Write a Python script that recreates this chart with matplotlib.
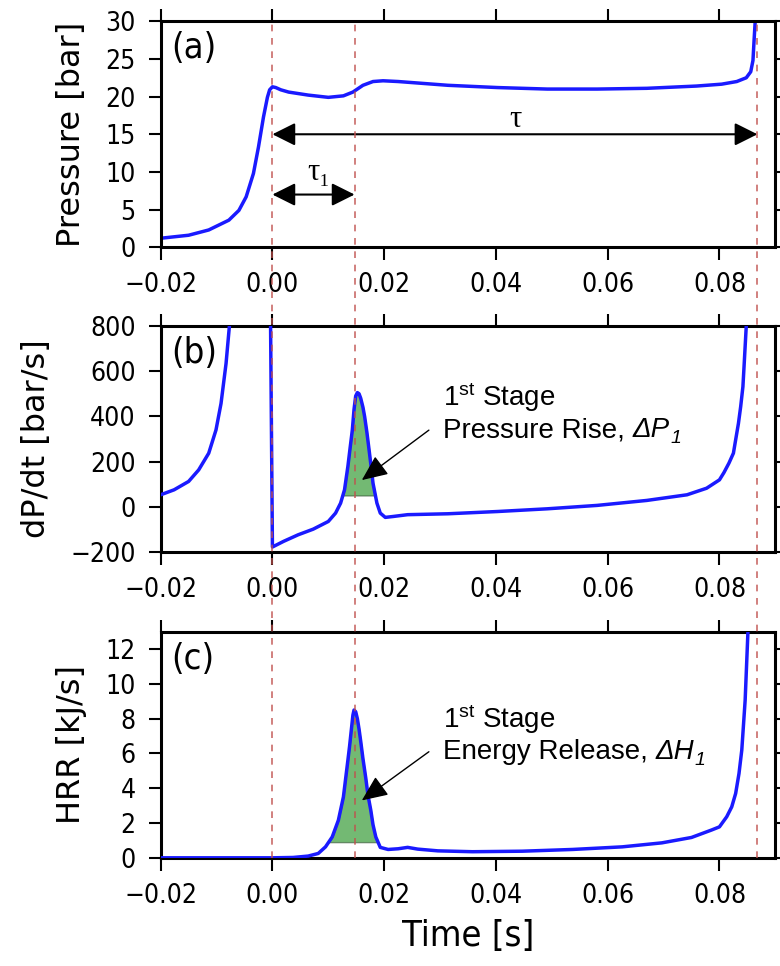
import numpy as np
import matplotlib.pyplot as plt
from matplotlib.lines import Line2D
from matplotlib.ticker import FuncFormatter
from matplotlib.transforms import blended_transform_factory

plt.rcParams['font.family'] = 'DejaVu Sans'
plt.rcParams['font.stretch'] = 'condensed'
plt.rcParams['mathtext.fontset'] = 'custom'
plt.rcParams['mathtext.rm'] = 'Liberation Sans'
plt.rcParams['mathtext.it'] = 'Liberation Sans:italic'

# (a) pressure trace
time_p = [-0.02, -0.015, -0.0114, -0.0078, -0.006, -0.0047, -0.0034, -0.0025, -0.0016,
          -0.0009, -0.0005, 0.0, 0.0006, 0.0015, 0.0029, 0.0064, 0.01, 0.0127, 0.0144,
          0.0162, 0.018, 0.0198, 0.0225, 0.0314, 0.0403, 0.0492, 0.0581, 0.067, 0.0759,
          0.0804, 0.0831, 0.0848, 0.0856, 0.086, 0.0862, 0.0864, 0.0866]
pres = [1.2, 1.6, 2.3, 3.6, 4.9, 6.7, 9.8, 13.3, 17.3,
        19.9, 20.9, 21.3, 21.2, 20.9, 20.6, 20.2, 19.9, 20.1, 20.6,
        21.5, 22.0, 22.1, 22.0, 21.5, 21.2, 21.0, 21.0, 21.1, 21.4,
        21.65, 22.0, 22.5, 23.3, 24.8, 27.5, 30.0, 40.0]

# (b) dP/dt
time_d = [-0.02, -0.0176, -0.015, -0.0132, -0.0114, -0.0101, -0.0092, -0.0083, -0.0077,
          -0.0072, -0.0004, 0.0, 0.002, 0.0046, 0.0073, 0.01, 0.0113, 0.0122, 0.0129,
          0.0135, 0.0139, 0.0143, 0.0146, 0.0149, 0.0152, 0.0155, 0.0158, 0.0162, 0.0165,
          0.0169, 0.0173, 0.0177, 0.018, 0.0187, 0.0193, 0.0202, 0.0216, 0.0242, 0.0314,
          0.0403, 0.0492, 0.0581, 0.067, 0.0742, 0.0777, 0.08, 0.0808, 0.0817, 0.0825,
          0.0829, 0.0834, 0.0838, 0.0842, 0.0844, 0.0848, 0.0852]
dpdt = [53, 75, 112, 163, 237, 340, 457, 634, 800,
        1000, 1000, -178, -153, -124, -99, -65, -28, 16, 75,
        178, 260, 340, 430, 490, 505, 500, 480, 440, 399,
        330, 251, 170, 104, 16, -28, -47, -43, -35, -31,
        -21, -9, 6, 28, 53, 82, 119, 151, 193, 237,
        296, 369, 443, 531, 619, 800, 1000]

# (c) heat release rate
time_h = [-0.02, 0.0, 0.0037, 0.0064, 0.0082, 0.0095, 0.0107, 0.0118, 0.0127, 0.0135,
          0.0138, 0.0142, 0.0144, 0.0146, 0.0149, 0.0152, 0.0155, 0.0158, 0.0162, 0.0167,
          0.0171, 0.0176, 0.018, 0.0185, 0.0193, 0.0207, 0.0225, 0.0242, 0.026, 0.0296,
          0.0358, 0.0447, 0.0537, 0.0626, 0.0697, 0.075, 0.0786, 0.08, 0.0813, 0.0822,
          0.0829, 0.0835, 0.084, 0.0846, 0.0851, 0.0855]
hrr = [0.0, 0.0, 0.02, 0.1, 0.25, 0.63, 1.2, 2.16, 3.5, 5.6,
       6.4, 7.6, 8.2, 8.5, 8.4, 8.0, 7.4, 6.7, 5.7, 4.6,
       3.6, 2.74, 1.9, 1.2, 0.6, 0.48, 0.52, 0.6, 0.5, 0.4,
       0.35, 0.38, 0.48, 0.63, 0.86, 1.17, 1.6, 1.78, 2.36, 2.93,
       3.7, 4.85, 6.2, 9.06, 13.0, 20.0]

t_start = 0.0
t_first = 0.0147
t_ign = 0.0868

time_p, pres = np.array(time_p), np.array(pres)
time_d, dpdt = np.array(time_d), np.array(dpdt)
time_h, hrr = np.array(time_h), np.array(hrr)

fig = plt.figure(figsize=(7.8, 9.66), dpi=100)
left, width, height = 0.206, 0.788, 0.234
ax1 = fig.add_axes([left, 0.744, width, height])
ax2 = fig.add_axes([left, 0.4286, width, height])
ax3 = fig.add_axes([left, 0.112, width, height])

blue = '#1a1aff'
xfmt = FuncFormatter(lambda v, p: ('%.2f' % v).replace('-', '\u2212'))
yfmt = FuncFormatter(lambda v, p: ('%d' % v).replace('-', '\u2212'))
for ax in (ax1, ax2, ax3):
    ax.set_xlim(-0.02, 0.09)
    ax.set_xticks([-0.02, 0.0, 0.02, 0.04, 0.06, 0.08])
    ax.xaxis.set_major_formatter(xfmt)
    ax.yaxis.set_major_formatter(yfmt)
    ax.tick_params(direction='out', top=True, right=True, length=9, width=1.5,
                   labelsize=19, pad=9)
    for s in ax.spines.values():
        s.set_linewidth(2.2)

ylab = dict(fontsize=23, stretch='normal', labelpad=13)

ax1.plot(time_p, pres, color=blue, lw=2.5)
ax1.set_ylim(0, 30)
ax1.set_yticks(range(0, 31, 5))
ax1.set_ylabel('Pressure [bar]', **ylab)

ax2.plot(time_d, dpdt, color=blue, lw=2.5, zorder=3)
ax2.set_ylim(-200, 800)
ax2.set_yticks(range(-200, 801, 200))
ax2.set_ylabel('dP/dt [bar/s]', **ylab)
ax2.fill_between(time_d, 50, dpdt, where=(dpdt >= 50) & (time_d > 0.01) & (time_d < 0.02),
                 interpolate=True, facecolor='green', alpha=0.55, edgecolor='#2f4f2f', lw=1)

ax3.plot(time_h, hrr, color=blue, lw=2.5, zorder=3)
ax3.set_ylim(0, 13)
ax3.set_yticks(range(0, 13, 2))
ax3.set_ylabel('HRR [kJ/s]', **ylab)
ax3.set_xlabel('Time [s]', fontsize=26, labelpad=7)
ax3.fill_between(time_h, 0.9, hrr, where=(hrr >= 0.9) & (time_h > 0.005) & (time_h < 0.02),
                 interpolate=True, facecolor='green', alpha=0.55, edgecolor='#2f4f2f', lw=1)

for ax, lab in zip((ax1, ax2, ax3), ('(a)', '(b)', '(c)')):
    ax.text(0.018, 0.955, lab, transform=ax.transAxes, fontsize=26, va='top', ha='left')

# ignition delay arrows
arr = dict(arrowstyle='<|-|>,head_length=0.7,head_width=0.35', color='k', lw=1.5,
           mutation_scale=20, shrinkA=0, shrinkB=0)
ax1.annotate('', xy=(t_start, 15), xytext=(t_ign, 15), arrowprops=arr)
ax1.annotate('', xy=(t_start, 7), xytext=(t_first, 7), arrowprops=arr)
serif = ['Liberation Serif', 'DejaVu Serif']
ax1.text(0.0435, 16.9, 'τ', fontsize=22, family=serif, ha='center', va='center')
ax1.text(0.0082, 9.9, 'τ₁', fontsize=22, family=serif, ha='center', va='center')

pointer = dict(arrowstyle='-|>,head_length=0.8,head_width=0.35', color='k', lw=1,
               mutation_scale=20, shrinkA=0, shrinkB=0)
ann_font = dict(fontsize=20, family='Liberation Sans', stretch='normal')


def stage_label(ax, x, y1, y2, words, sym):
    ax.text(x, y1, '1$^{\\mathrm{st}}$ Stage', ha='left', va='center', **ann_font)
    t = ax.text(x, y2, words, ha='left', va='center', **ann_font)
    s = ax.annotate(sym, xy=(1, 0), xycoords=t, ha='left', va='bottom',
                    style='italic', **ann_font)
    ax.annotate('1', xy=(1, 0), xycoords=s, xytext=(0, -3), textcoords='offset points',
                ha='left', va='bottom', style='italic', fontsize=14,
                family='Liberation Sans')


ax2.annotate('', xy=(0.016, 118), xytext=(0.028, 339), arrowprops=pointer)
stage_label(ax2, 0.0306, 487, 339, 'Pressure Rise, ', 'ΔP')
ax3.annotate('', xy=(0.016, 3.3), xytext=(0.028, 6.1), arrowprops=pointer)
stage_label(ax3, 0.0306, 8.0, 6.1, 'Energy Release, ', 'ΔH')

# event markers running through all three panels
trans = blended_transform_factory(ax1.transData, fig.transFigure)
for t in (t_start, t_first, t_ign):
    fig.add_artist(Line2D([t, t], [0.112, 0.978], transform=trans, color='#c0504d',
                          lw=1.2, ls=(0, (4, 4)), alpha=0.85))

fig.savefig('out.png', dpi=100)
